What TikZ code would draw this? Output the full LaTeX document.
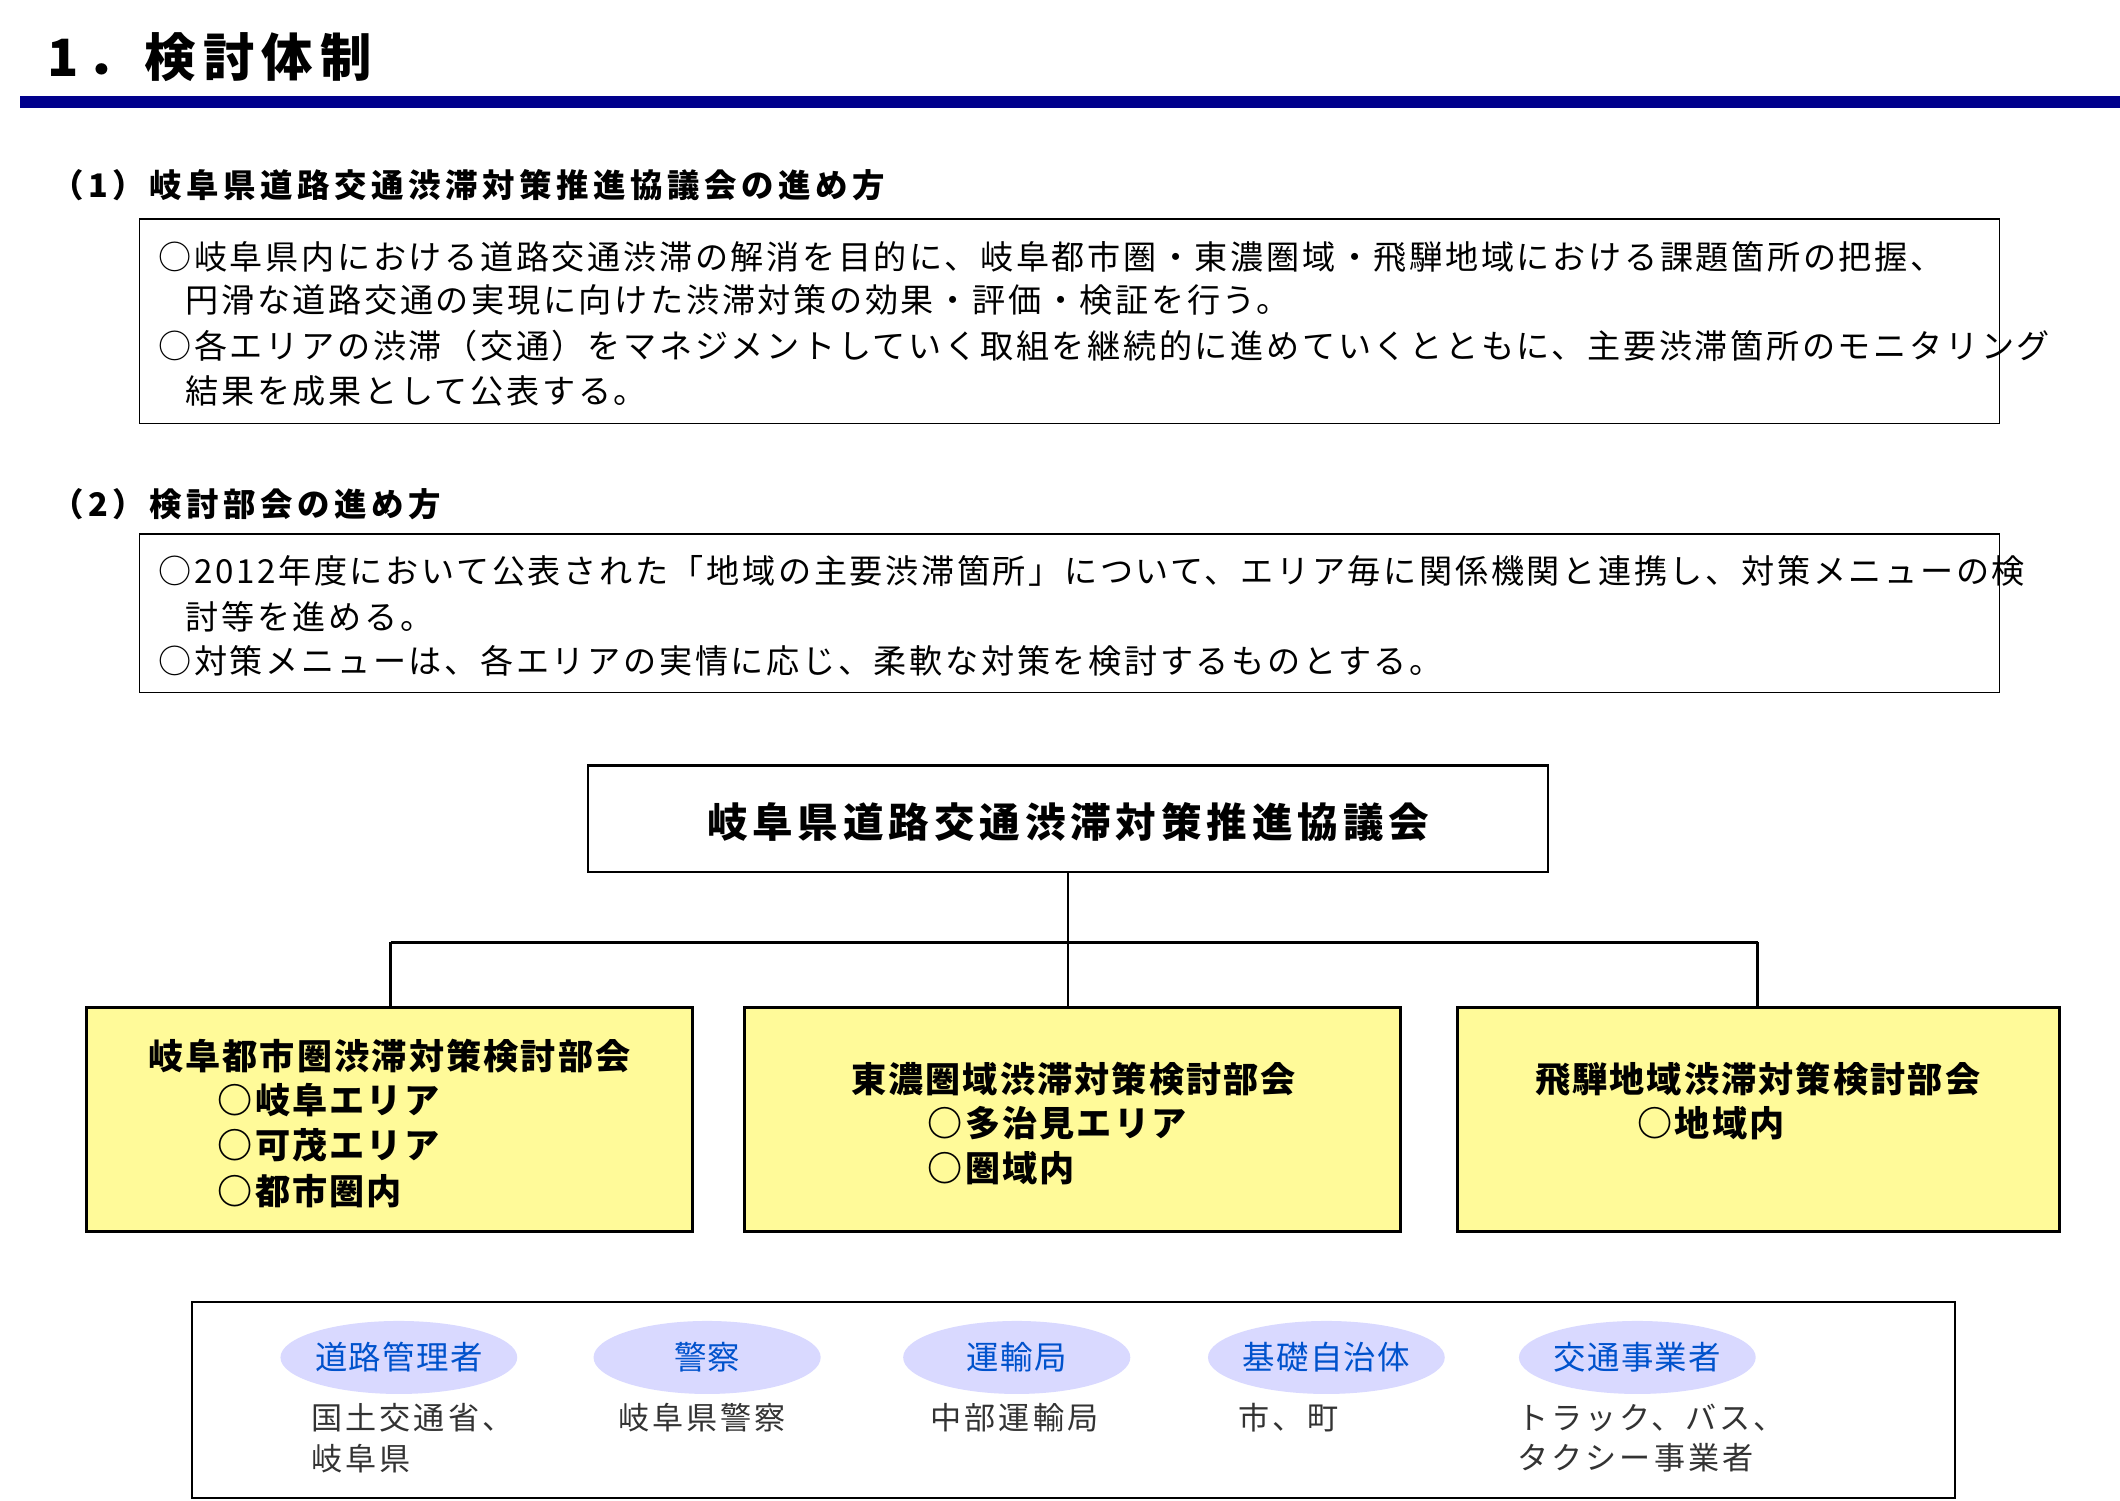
\documentclass[tikz,border=0pt]{standalone}
\usepackage{fontspec}
\setmainfont{Noto Sans CJK JP}
\newcommand\lsp[1]{\addfontfeature{LetterSpace=#1}}
\begin{document}
\begin{tikzpicture}[x=1pt,y=-1pt,
  txt/.style={anchor=west,inner sep=0pt,font=\fontsize{24.5}{24.5}\selectfont\lsp{8}},
  hdr/.style={anchor=west,inner sep=0pt,font=\fontsize{24}{24}\selectfont\bfseries\lsp{14}},
  sub/.style={draw=black,line width=2.2pt,fill=yellow!40},
  subt/.style={inner sep=0pt,font=\fontsize{26}{26}\selectfont\bfseries\lsp{6}},
  ell/.style={ellipse,fill=blue!15,minimum width=168pt,minimum height=54pt,inner sep=0pt,text=blue!60!cyan!80!black,font=\fontsize{24}{24}\selectfont\lsp{4}},
  gt/.style={anchor=west,inner sep=0pt,text=black!80,font=\fontsize{23}{30}\selectfont\lsp{10},align=left}]
\usetikzlibrary{shapes.geometric}
\useasboundingbox (0,0) rectangle (1568,1110);
\fill[white] (0,0) rectangle (1568,1110);
\node[anchor=west,inner sep=0pt,font=\fontsize{38}{38}\selectfont\bfseries\lsp{14}] (t) at (35,42) {1．検討体制};
\fill[blue!55!black] (15,71) rectangle (1568,80);
\node[hdr] (h1) at (38,137) {（1）岐阜県道路交通渋滞対策推進協議会の進め方};
\draw[line width=1pt] (103,162) rectangle (1479,313);
\node[txt] (a1) at (117,190) {○岐阜県内における道路交通渋滞の解消を目的に、岐阜都市圏・東濃圏域・飛騨地域における課題箇所の把握、};
\node[txt] (a2) at (137,222) {円滑な道路交通の実現に向けた渋滞対策の効果・評価・検証を行う。};
\node[txt] (a3) at (117,256) {○各エリアの渋滞（交通）をマネジメントしていく取組を継続的に進めていくとともに、主要渋滞箇所のモニタリング};
\node[txt] (a4) at (137,289) {結果を成果として公表する。};
\node[hdr] (h2) at (38,373) {（2）検討部会の進め方};
\draw[line width=1pt] (103,395) rectangle (1479,512);
\node[txt] (b1) at (117,422) {○2012年度において公表された「地域の主要渋滞箇所」について、エリア毎に関係機関と連携し、対策メニューの検};
\node[txt] (b2) at (137,456) {討等を進める。};
\node[txt] (b3) at (117,489) {○対策メニューは、各エリアの実情に応じ、柔軟な対策を検討するものとする。};
% main
\draw[line width=2pt] (435,566) rectangle (1145,645);
\node[inner sep=0pt,font=\fontsize{30}{30}\selectfont\bfseries\lsp{12}] (m) at (790,608) {岐阜県道路交通渋滞対策推進協議会};
\coordinate (mb) at (790,645);
\coordinate (j) at (790,697);
\coordinate (jl) at (289,697);
\coordinate (jr) at (1300,697);
\draw[line width=2pt] (mb) -- (j) (jl) -- (jr) (jl) -- (289,745) (j) -- (790,745) (jr) -- (1300,745);
\draw[sub] (64,745) rectangle (512,911);
\draw[sub] (551,745) rectangle (1036,911);
\draw[sub] (1078,745) rectangle (1523,911);
\node[subt] (sa) at (288,781) {岐阜都市圏渋滞対策検討部会};
\node[subt,anchor=west] (sa1) at (161,814) {○岐阜エリア};
\node[subt,anchor=west] (sa2) at (161,847) {○可茂エリア};
\node[subt,anchor=west] (sa3) at (161,881) {○都市圏内};
\node[subt] (sb) at (794,798) {東濃圏域渋滞対策検討部会};
\node[subt,anchor=west] (sb1) at (686,831) {○多治見エリア};
\node[subt,anchor=west] (sb2) at (686,864) {○圏域内};
\node[subt] (sc) at (1300,798) {飛騨地域渋滞対策検討部会};
\node[subt,anchor=west] (sc1) at (1211,831) {○地域内};
% bottom
\draw[line width=1.6pt] (142,963) rectangle (1446,1108);
\node[ell] (e1) at (295,1004) {道路管理者};
\node[ell] (e2) at (523,1004) {警察};
\node[ell] (e3) at (752,1004) {運輸局};
\node[ell] (e4) at (981,1004) {基礎自治体};
\node[ell] (e5) at (1211,1004) {交通事業者};
\node[gt,anchor=north west] (g1) at (230,1038) {国土交通省、\\岐阜県};
\node[gt,anchor=north west] (g2) at (457,1038) {岐阜県警察};
\node[gt,anchor=north west] (g3) at (688,1038) {中部運輸局};
\node[gt,anchor=north west] (g4) at (916,1038) {市、町};
\node[gt,anchor=north west] (g5) at (1122,1038) {トラック、バス、\\タクシー事業者};
\end{tikzpicture}
\end{document}
